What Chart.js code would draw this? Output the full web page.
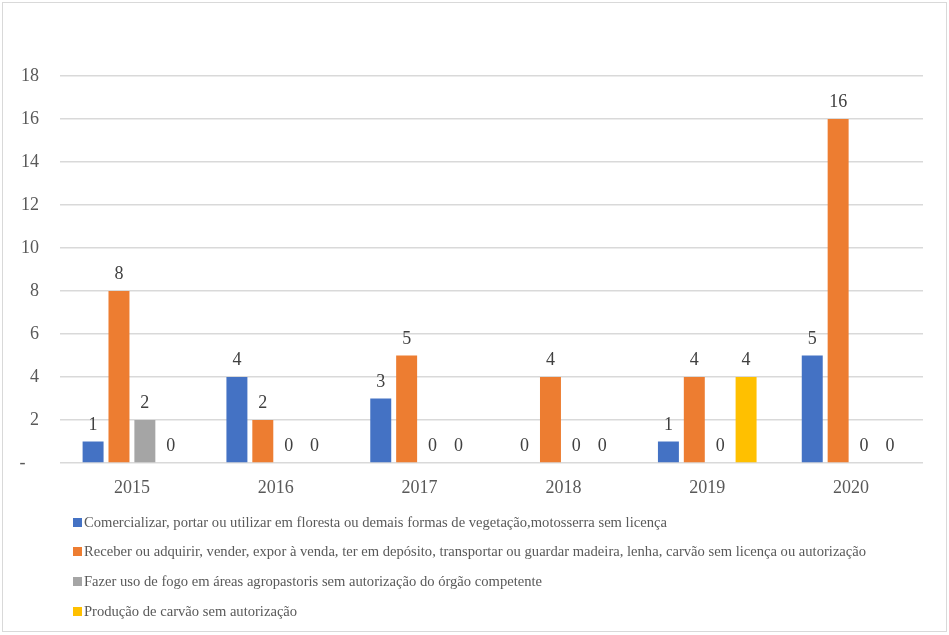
<!DOCTYPE html>
<html>
<head>
<meta charset="utf-8">
<script src="https://cdn.jsdelivr.net/npm/chart.js@4/dist/chart.umd.min.js"></script>
<style>
  html, body { margin: 0; padding: 0; background: #fff; }
  #wrap { position: relative; width: 949px; height: 635px; }
  #frame { position: absolute; left: 2px; top: 2px; width: 945px; height: 630px; border: 1px solid #d9d9d9; box-sizing: border-box; pointer-events: none; }
  #legend { position: absolute; left: 73px; top: 0; font-family: 'Liberation Serif', 'Times New Roman', serif; font-size: 14.6px; color: #595959; }
  .li { position: absolute; white-space: nowrap; display: flex; align-items: center; }
  .sw { width: 9px; height: 9px; margin-right: 2px; display: inline-block; }
</style>
</head>
<body>
<div id="wrap">
  <canvas id="c" width="949" height="635"></canvas>
  <div id="legend"></div>
  <div id="frame"></div>
</div>
<script>
const categories = ['2015', '2016', '2017', '2018', '2019', '2020'];
const seriesNames = [
  'Comercializar, portar ou utilizar em floresta ou demais formas de vegetação,motosserra sem licença',
  'Receber ou adquirir, vender, expor à venda, ter em depósito, transportar ou guardar madeira, lenha, carvão sem licença ou autorização',
  'Fazer uso de fogo em áreas agropastoris sem autorização do órgão competente',
  'Produção de carvão sem autorização'
];
const comercializar = [1, 4, 3, 0, 1, 5];
const receber = [8, 2, 5, 4, 4, 16];
const fogo = [2, 0, 0, 0, 0, 0];
const carvao = [0, 0, 0, 0, 4, 0];
const seriesColors = ['#4472C4', '#ED7D31', '#A5A5A5', '#FFC000'];
const yMin = 0, yMax = 18, yStep = 2;

const seriesValues = [comercializar, receber, fogo, carvao];

const valueLabels = {
  id: 'valueLabels',
  afterDatasetsDraw(chart) {
    const ctx = chart.ctx;
    ctx.save();
    ctx.font = '18px "Liberation Serif", "Times New Roman", serif';
    ctx.fillStyle = '#404040';
    ctx.textAlign = 'center';
    ctx.textBaseline = 'alphabetic';
    chart.data.datasets.forEach((ds, i) => {
      const meta = chart.getDatasetMeta(i);
      meta.data.forEach((el, j) => {
        const v = ds.data[j];
        if (v === null || v === undefined) return;
        ctx.fillText(String(v), el.x, el.y - 12);
      });
    });
    ctx.restore();
  }
};

const chart = new Chart(document.getElementById('c'), {
  type: 'bar',
  data: {
    labels: categories,
    datasets: seriesValues.map((vals, i) => ({
      label: seriesNames[i],
      data: vals,
      backgroundColor: seriesColors[i],
      borderWidth: 0,
      categoryPercentage: 0.72,
      barPercentage: 0.81
    }))
  },
  options: {
    responsive: false,
    animation: false,
    devicePixelRatio: 1,
    layout: { padding: { left: 0, right: 26, top: 76, bottom: 132 } },
    plugins: { legend: { display: false }, tooltip: { enabled: false } },
    scales: {
      x: {
        grid: { display: false },
        border: { display: false },
        ticks: {
          padding: 6,
          color: '#595959',
          font: { family: '"Liberation Serif", "Times New Roman", serif', size: 18 }
        },
        afterFit(scale) { scale.height = 40; }
      },
      y: {
        min: yMin,
        max: yMax,
        grid: { color: '#d9d9d9', lineWidth: 1.5, drawTicks: false },
        border: { display: false },
        ticks: {
          stepSize: yStep,
          padding: 21,
          color: '#595959',
          font: { family: '"Liberation Serif", "Times New Roman", serif', size: 18 },
          callback: (v) => v === 0 ? '-   ' : String(v)
        },
        afterFit(scale) { scale.width = 60; }
      }
    }
  },
  plugins: [valueLabels]
});

// HTML legend, one entry per row
const legend = document.getElementById('legend');
const rowTops = [522, 551, 581, 611];
chart.data.datasets.forEach((ds, i) => {
  const row = document.createElement('div');
  row.className = 'li';
  row.style.top = (rowTops[i] - 9) + 'px';
  row.style.height = '18px';
  const sw = document.createElement('span');
  sw.className = 'sw';
  sw.style.background = ds.backgroundColor;
  const tx = document.createElement('span');
  tx.textContent = ds.label;
  row.appendChild(sw);
  row.appendChild(tx);
  legend.appendChild(row);
});
</script>
</body>
</html>
